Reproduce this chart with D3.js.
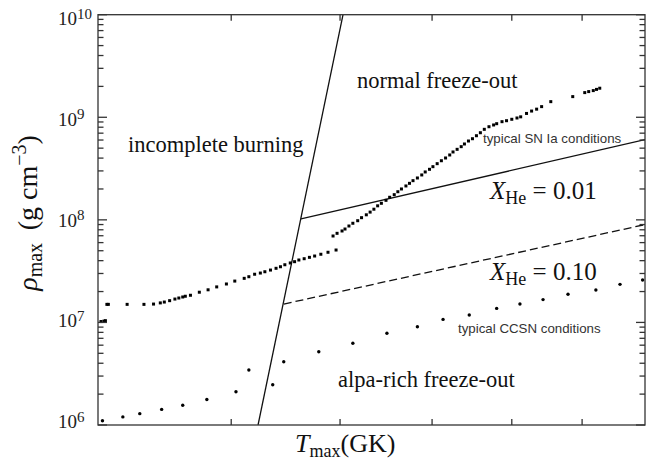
<!DOCTYPE html>
<html><head><meta charset="utf-8">
<script src="https://cdn.jsdelivr.net/npm/d3@7"></script>
<style>body{margin:0;background:#fff}</style></head>
<body><svg id="c" width="654" height="463"></svg>
<script>
// SN Ia-type trajectories (squares)
const snT=[4.02,4.04,4.05,4.06,4.07,4.20,4.32,4.39,4.44,4.47,4.51,4.55,4.58,4.61,4.63,4.67,4.74,4.81,4.88,4.96,5.03,5.11,5.15,5.20,5.25,5.29,5.34,5.39,5.43,5.47,5.52,5.56,5.60,5.65,5.70,5.75,5.81,5.88,5.96,
 5.93,5.97,6.02,6.05,6.09,6.13,6.18,6.22,6.27,6.31,6.35,6.39,6.43,6.48,6.52,6.57,6.61,6.65,6.70,6.74,6.78,6.83,6.88,6.92,6.97,7.01,7.06,7.11,7.16,7.21,7.25,7.30,7.35,7.39,7.44,7.49,7.54,7.59,7.64,7.70,7.76,7.80,7.87,7.93,8.00,8.07,8.12,8.20,8.27,8.34,8.41,8.54,8.86,9.04,9.10,9.17,9.22,9.27];
const snRho=[1.02e7,1.03e7,1.04e7,1.50e7,1.50e7,1.50e7,1.50e7,1.51e7,1.55e7,1.58e7,1.63e7,1.69e7,1.73e7,1.77e7,1.80e7,1.84e7,1.97e7,2.08e7,2.22e7,2.37e7,2.53e7,2.69e7,2.79e7,2.95e7,3.03e7,3.12e7,3.24e7,3.37e7,3.49e7,3.65e7,3.80e7,3.91e7,4.06e7,4.18e7,4.31e7,4.44e7,4.62e7,4.83e7,5.08e7,
 6.96e7,7.39e7,7.79e7,8.14e7,8.71e7,9.26e7,9.81e7,1.05e8,1.12e8,1.19e8,1.27e8,1.37e8,1.45e8,1.55e8,1.66e8,1.76e8,1.88e8,2.00e8,2.14e8,2.27e8,2.41e8,2.56e8,2.74e8,2.93e8,3.11e8,3.30e8,3.53e8,3.77e8,4.01e8,4.29e8,4.59e8,4.87e8,5.17e8,5.49e8,5.87e8,6.18e8,6.61e8,7.07e8,7.63e8,8.09e8,8.41e8,8.66e8,9.06e8,9.26e8,9.56e8,9.84e8,1.01e9,1.09e9,1.15e9,1.20e9,1.27e9,1.42e9,1.59e9,1.74e9,1.78e9,1.82e9,1.87e9,1.92e9];
// CCSN-type trajectories (dots)
const ccT=[4.03,4.17,4.29,4.45,4.61,4.80,5.04,5.15,5.36,5.46,5.79,6.13,6.49,6.83,7.13,7.45,7.80,8.11,8.43,8.79,9.21,9.59,9.96];
const ccRho=[1.10e6,1.20e6,1.29e6,1.42e6,1.56e6,1.77e6,2.11e6,3.44e6,2.47e6,4.14e6,5.18e6,6.26e6,7.83e6,9.09e6,1.07e7,1.18e7,1.37e7,1.51e7,1.67e7,1.88e7,2.07e7,2.35e7,2.59e7];
// boundary lines
const boundaryT=[5.23,6.03], boundaryRho=[1e6,1e10];
const he001T=[5.62,10], he001Rho=[1.02e8,6.06e8];
const he010T=[5.46,10], he010Rho=[1.51e7,8.99e7];
const xTicks=[5,6,7,8,9];
const yMajor=[1e6,1e7,1e8,1e9,1e10];
const yExp=["6","7","8","9","10"];

const svg=d3.select("#c");
const L=98,R=645,T=14.7,B=425;
const x=d3.scaleLog().domain([4,10]).range([L,R]);
const y=d3.scaleLog().domain([1e6,1e10]).range([B,T]);
const serif="'Liberation Serif','Times New Roman',serif";
const sans="'Liberation Sans',Arial,sans-serif";

svg.append("defs").append("clipPath").attr("id","clip").append("rect")
  .attr("x",L).attr("y",T).attr("width",R-L).attr("height",B-T);
const g=svg.append("g").attr("clip-path","url(#clip)");

const line=d3.line().x(d=>x(d[0])).y(d=>y(d[1]));
g.append("path").datum(d3.zip(boundaryT,boundaryRho)).attr("d",line)
  .attr("fill","none").attr("stroke","#111").attr("stroke-width",1.3);
g.append("path").datum(d3.zip(he001T,he001Rho)).attr("d",line)
  .attr("fill","none").attr("stroke","#111").attr("stroke-width",1.3);
g.append("path").datum(d3.zip(he010T,he010Rho)).attr("d",line)
  .attr("fill","none").attr("stroke","#111").attr("stroke-width",1.3).attr("stroke-dasharray","8,4");

g.selectAll("rect.sn").data(d3.zip(snT,snRho)).enter().append("rect").attr("class","sn")
  .attr("x",d=>x(d[0])-1.5).attr("y",d=>y(d[1])-1.5).attr("width",3).attr("height",3).attr("fill","#000");
g.selectAll("circle.cc").data(d3.zip(ccT,ccRho)).enter().append("circle").attr("class","cc")
  .attr("cx",d=>x(d[0])).attr("cy",d=>y(d[1])).attr("r",1.7).attr("fill","#000");

// frame
const ax=svg.append("g").attr("stroke","#333").attr("stroke-width",1.3);
ax.append("rect").attr("x",L).attr("y",T).attr("width",R-L).attr("height",B-T).attr("fill","none");
xTicks.forEach(t=>{
  ax.append("line").attr("x1",x(t)).attr("x2",x(t)).attr("y1",B).attr("y2",B-6);
  ax.append("line").attr("x1",x(t)).attr("x2",x(t)).attr("y1",T).attr("y2",T+6);
});
y.ticks().forEach(v=>{
  const lv=Math.log10(v);
  const major=Math.abs(lv-Math.round(lv))<1e-9;
  const len=major?9:5.5;
  ax.append("line").attr("x1",L).attr("x2",L+len).attr("y1",y(v)).attr("y2",y(v));
  ax.append("line").attr("x1",R).attr("x2",R-len).attr("y1",y(v)).attr("y2",y(v));
});

// y tick labels
yMajor.forEach((v,i)=>{
  const t=svg.append("text").attr("x",58).attr("y",y(v)+3.3+1.75*i)
    .attr("font-family",serif).attr("font-size",19).attr("fill","#222");
  t.append("tspan").text("10");
  t.append("tspan").attr("font-size",15).attr("dy",-6.5).text(yExp[i]);
});

// axis labels
const xl=svg.append("text").attr("x",295).attr("y",452).attr("font-family",serif).attr("font-size",26).attr("fill","#111");
xl.append("tspan").attr("font-style","italic").text("T");
xl.append("tspan").attr("font-size",18).attr("dy",5).text("max");
xl.append("tspan").attr("dy",-5).text("(GK)");

const yl=svg.append("text").attr("transform","translate(37,213) rotate(-90)").attr("text-anchor","middle")
  .attr("font-family",serif).attr("font-size",28).attr("fill","#111");
yl.append("tspan").attr("font-style","italic").text("ρ");
yl.append("tspan").attr("font-size",20).attr("dy",5).text("max");
yl.append("tspan").attr("dy",-5).text("\u2009 (g cm");
yl.append("tspan").attr("font-size",20).attr("dy",-11).text("\u22123");
yl.append("tspan").attr("dy",11).text(")");

// region labels
function lab(tx,xx,yy,fs){svg.append("text").attr("x",xx).attr("y",yy).attr("font-family",serif).attr("font-size",fs).attr("fill","#111").text(tx);}
lab("incomplete burning",128,152,22.5);
lab("normal freeze-out",357,88,22.5);
lab("alpa-rich freeze-out",338,387,22.5);
function small(tx,xx,yy){svg.append("text").attr("x",xx).attr("y",yy).attr("font-family",sans).attr("font-size",13.3).attr("fill","#333").text(tx);}
small("typical SN Ia conditions",483,143);
small("typical CCSN conditions",458,333);
function he(val,xx,yy){
  const t=svg.append("text").attr("x",xx).attr("y",yy).attr("font-family",serif).attr("font-size",25).attr("fill","#111");
  t.append("tspan").attr("font-style","italic").text("X");
  t.append("tspan").attr("font-size",18).attr("dy",5).text("He");
  t.append("tspan").attr("dy",-5).text(" = "+val);
}
he("0.01",490,199);
he("0.10",490,280);
</script></body></html>
